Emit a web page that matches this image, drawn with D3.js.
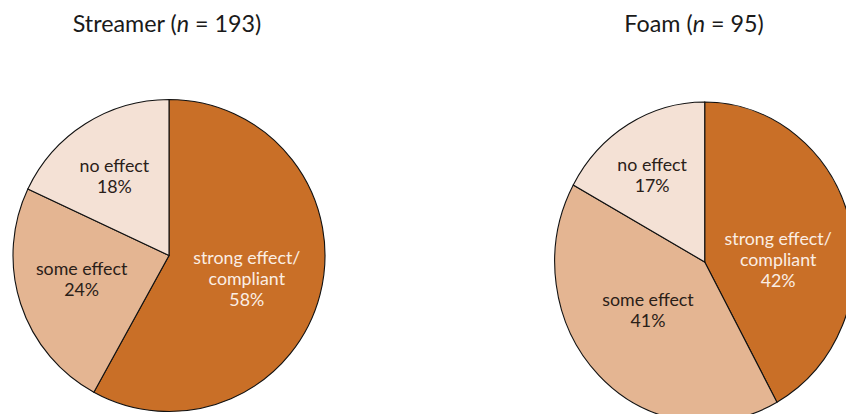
<!DOCTYPE html>
<html>
<head>
<meta charset="utf-8">
<script src="https://cdn.jsdelivr.net/npm/d3@7"></script>
<style>
  body { margin: 0; background: #fff; }
  text { font-family: Lato, "Open Sans", sans-serif; }
</style>
</head>
<body>
<script>
// data (percent of respondents)
var categories = ["strong effect/compliant", "some effect", "no effect"];
var streamerValues = [58, 24, 18];
var foamValues = [42, 41, 17];
var streamerN = 193;
var foamN = 95;
var colors = ["#c96f27", "#e4b592", "#f4e1d5"];
var textColors = ["#fbeee4", "#2a2018", "#2a2018"];

var width = 846, height = 414;

var svg = d3.select("body").append("svg")
  .attr("width", width)
  .attr("height", height);

// layout for each pie: centre, radii, label placement [radius fraction, angle nudge in deg]
var pies = [
  { name: "Streamer", n: streamerN, values: streamerValues, cx: 169, cy: 255.5, rx: 156, ry: 156,
    titleX: 167, labels: [[0.52, 2], [0.58, 3], [0.62, -2]] },
  { name: "Foam", n: foamN, values: foamValues, cx: 704.7, cy: 262, rx: 150, ry: 160,
    titleX: 694, labels: [[0.49, 12], [0.48, 7], [0.65, -2]] }
];

var pie = d3.pie().sort(null).value(function(d) { return d; });

pies.forEach(function(p) {
  var arcs = pie(p.values);
  var arc = d3.arc().innerRadius(0).outerRadius(p.rx);

  var g = svg.append("g")
    .attr("transform", "translate(" + p.cx + "," + p.cy + ") scale(1," + (p.ry / p.rx) + ")");

  g.selectAll("path")
    .data(arcs)
    .enter().append("path")
      .attr("d", arc)
      .attr("fill", function(d, i) { return colors[i]; })
      .attr("stroke", "#111")
      .attr("stroke-width", 1.1)
      .attr("vector-effect", "non-scaling-stroke");

  // labels
  arcs.forEach(function(d, i) {
    var lp = p.labels[i];
    var a = (d.startAngle + d.endAngle) / 2 + lp[1] * Math.PI / 180;
    var dist = lp[0] * p.rx;
    var x = p.cx + dist * Math.sin(a);
    var y = p.cy - dist * Math.cos(a) * (p.ry / p.rx);
    var lines;
    if (i === 0) lines = ["strong effect/", "compliant", p.values[i] + "%"];
    else lines = [categories[i], p.values[i] + "%"];
    var lh = 21;
    var y0 = y - (lines.length - 1) * lh / 2 + 7;
    var t = svg.append("text")
      .attr("text-anchor", "middle")
      .attr("font-size", 17.8)
      .attr("fill", textColors[i]);
    lines.forEach(function(s, k) {
      t.append("tspan").attr("x", x).attr("y", y0 + k * lh).text(s);
    });
  });

  // title
  var title = svg.append("text")
    .attr("x", p.titleX)
    .attr("y", 31.5)
    .attr("text-anchor", "middle")
    .attr("font-size", 23.3)
    .attr("fill", "#1a1a1a");
  title.append("tspan").text(p.name + " (");
  title.append("tspan").attr("font-style", "italic").text("n");
  title.append("tspan").text(" = " + p.n + ")");
});
</script>
</body>
</html>
